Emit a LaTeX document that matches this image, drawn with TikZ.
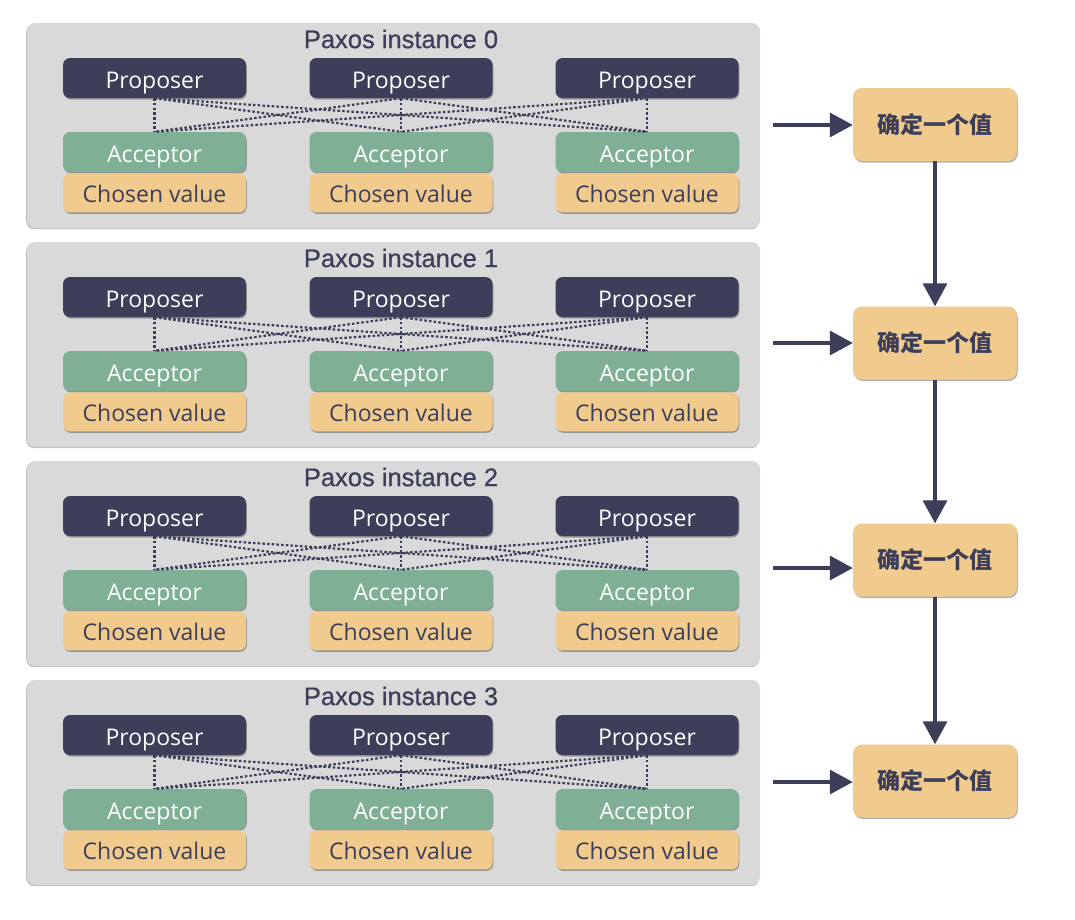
\documentclass[tikz,border=0pt]{standalone}
\usepackage{fontspec}
\setmainfont{Open Sans}
\newfontfamily\judulfont[FakeBold=0.6]{Liberation Sans}
\newfontfamily\cjk{Noto Sans CJK SC}
\usepackage{xcolor}
\usetikzlibrary{positioning}
\usetikzlibrary{arrows.meta,shadows}
\definecolor{navy}{HTML}{3C3E5A}
\definecolor{hijau}{HTML}{7FB096}
\definecolor{krem}{HTML}{F1CB8D}
\definecolor{abu}{HTML}{D9D9D9}
\tikzset{
  kotak/.style={rounded corners=7pt, minimum width=183pt, minimum height=40pt, inner sep=0pt,
    text height=20pt, text depth=0pt, font=\fontsize{23}{27}\selectfont,
    drop shadow={shadow xshift=0.8pt, shadow yshift=-1.5pt, opacity=0.3, fill=black}},
  prop/.style={kotak, fill=navy, text=white},
  acc/.style={kotak, fill=hijau, text=white},
  nilai/.style={kotak, fill=krem, text=navy, minimum height=39pt},
  panel/.style={rounded corners=8pt, fill=abu,
    drop shadow={shadow xshift=-0.8pt, shadow yshift=-1.2pt, opacity=0.25, fill=black}},
  judul/.style={text=navy, inner sep=0pt, font=\judulfont\fontsize{25.5}{30}\selectfont},
  hasil/.style={rounded corners=9pt, fill=krem, text=navy, minimum width=164pt, minimum height=73pt,
    inner sep=0pt, font=\cjk\bfseries\fontsize{23}{27}\selectfont,
    drop shadow={shadow xshift=0.8pt, shadow yshift=-1.5pt, opacity=0.3, fill=black}},
  garis/.style={navy, line width=2.2pt, dash pattern=on 2.5pt off 2.2pt},
  panah/.style={navy, line width=3.5pt, -{Triangle[length=23pt,width=24pt]}}
}
\begin{document}
\begin{tikzpicture}[x=1pt, y=-1pt]
    \useasboundingbox (0,0) rectangle (1075,919);
    %INSTANCE
    \foreach \i in {0,...,3}{
        \pgfmathsetmacro\ytop{23+219*\i}
        \fill[panel] (27,\ytop) rectangle (760,\ytop+205);
        \node[judul] (judul\i) at (401,\ytop+16) {Paxos instance \i};
        %KOTAK-KOTAK
        \foreach \x [count=\j] in {154.5,401,647}{
            \node[prop] (p\i\j) at (\x,\ytop+55) {Proposer};
            \node[acc] (a\i\j) at (\x,\ytop+129) {Acceptor};
            \node[nilai, below=1pt of a\i\j] (c\i\j) {Chosen value};
        }
        %GARIS
        \foreach \j in {1,2,3}{
            \foreach \k in {1,2,3}{
                \draw[garis] (p\i\j.south) -- (a\i\k.north);
            }
        }
    }
    %HASIL
    \node[hasil] (h0) at (935,124.5) {确定一个值};
    \node[hasil] (h1) at (935,343) {确定一个值};
    \node[hasil] (h2) at (935,560) {确定一个值};
    \node[hasil] (h3) at (935,781) {确定一个值};
    %PANAH
    \coordinate (m0) at (773,125);
    \coordinate (m1) at (773,343);
    \coordinate (m2) at (773,568);
    \coordinate (m3) at (773,782);
    \foreach \i in {0,...,3}{
        \draw[panah] (m\i) -- (m\i -| h\i.west);
    }
    \draw[panah] (h0) -- (h1);
    \draw[panah] (h1) -- (h2);
    \draw[panah] (h2) -- (h3);
\end{tikzpicture}
\end{document}
